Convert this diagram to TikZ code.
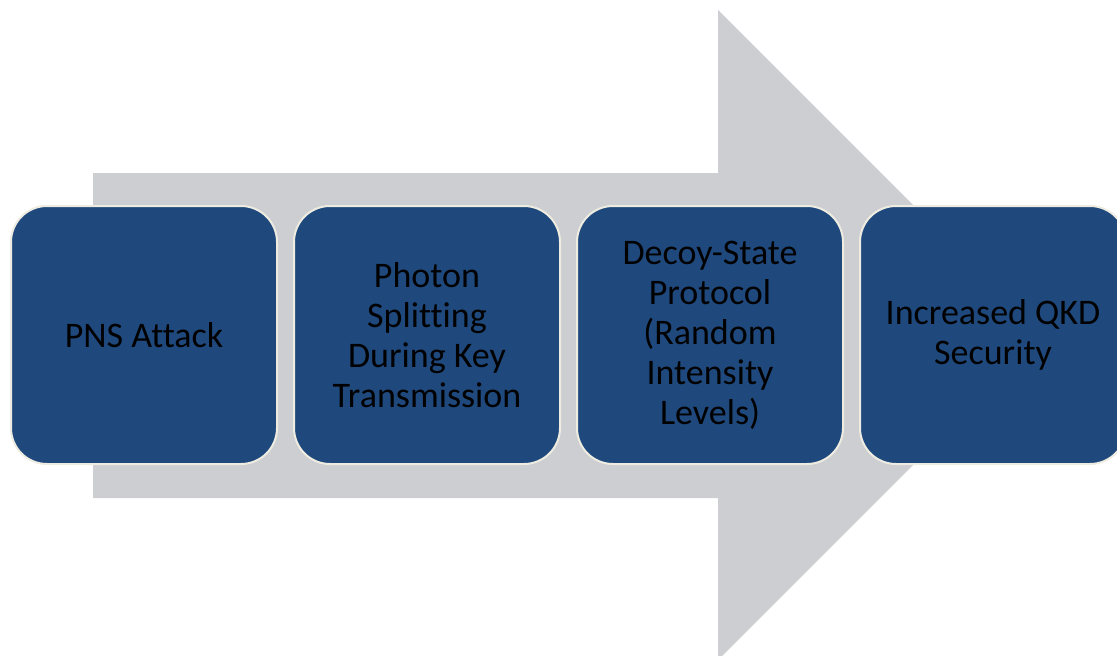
\documentclass[tikz,border=0pt]{standalone}
\usepackage{fontspec}
\setmainfont{Carlito}[Ligatures=NoCommon]
\usetikzlibrary{positioning}
\definecolor{boxblue}{HTML}{1F497D}
\definecolor{arrowgrey}{HTML}{CDCED2}
\definecolor{boxedge}{HTML}{EEECE1}
\tikzset{
  stepbox/.style={draw=boxedge, line width=2pt, fill=boxblue, rounded corners=36pt,
    minimum width=266pt, minimum height=258pt, align=center, text=black,
    font=\fontsize{36}{40}\selectfont, inner sep=0pt}
}

\begin{document}
\begin{tikzpicture}[x=1pt,y=-1pt]
\useasboundingbox (0,0) rectangle (1117,656);
% big grey arrow behind the steps
\fill[arrowgrey] (93,173) -- (718,173) -- (718,10) -- (1043,335) -- (718,660)
  -- (718,498) -- (93,498) -- cycle;
\node[stepbox] (pns) at (144,335) {PNS Attack};
\node[stepbox, right=15pt of pns] (split) {Photon\\Splitting\\During Key\\Transmission};
\node[stepbox, right=15pt of split] (decoy) {Decoy-State\\Protocol\\(Random\\Intensity\\Levels)};
\node[stepbox, right=15pt of decoy] (secure) {Increased QKD\\Security};
\end{tikzpicture}
\end{document}
